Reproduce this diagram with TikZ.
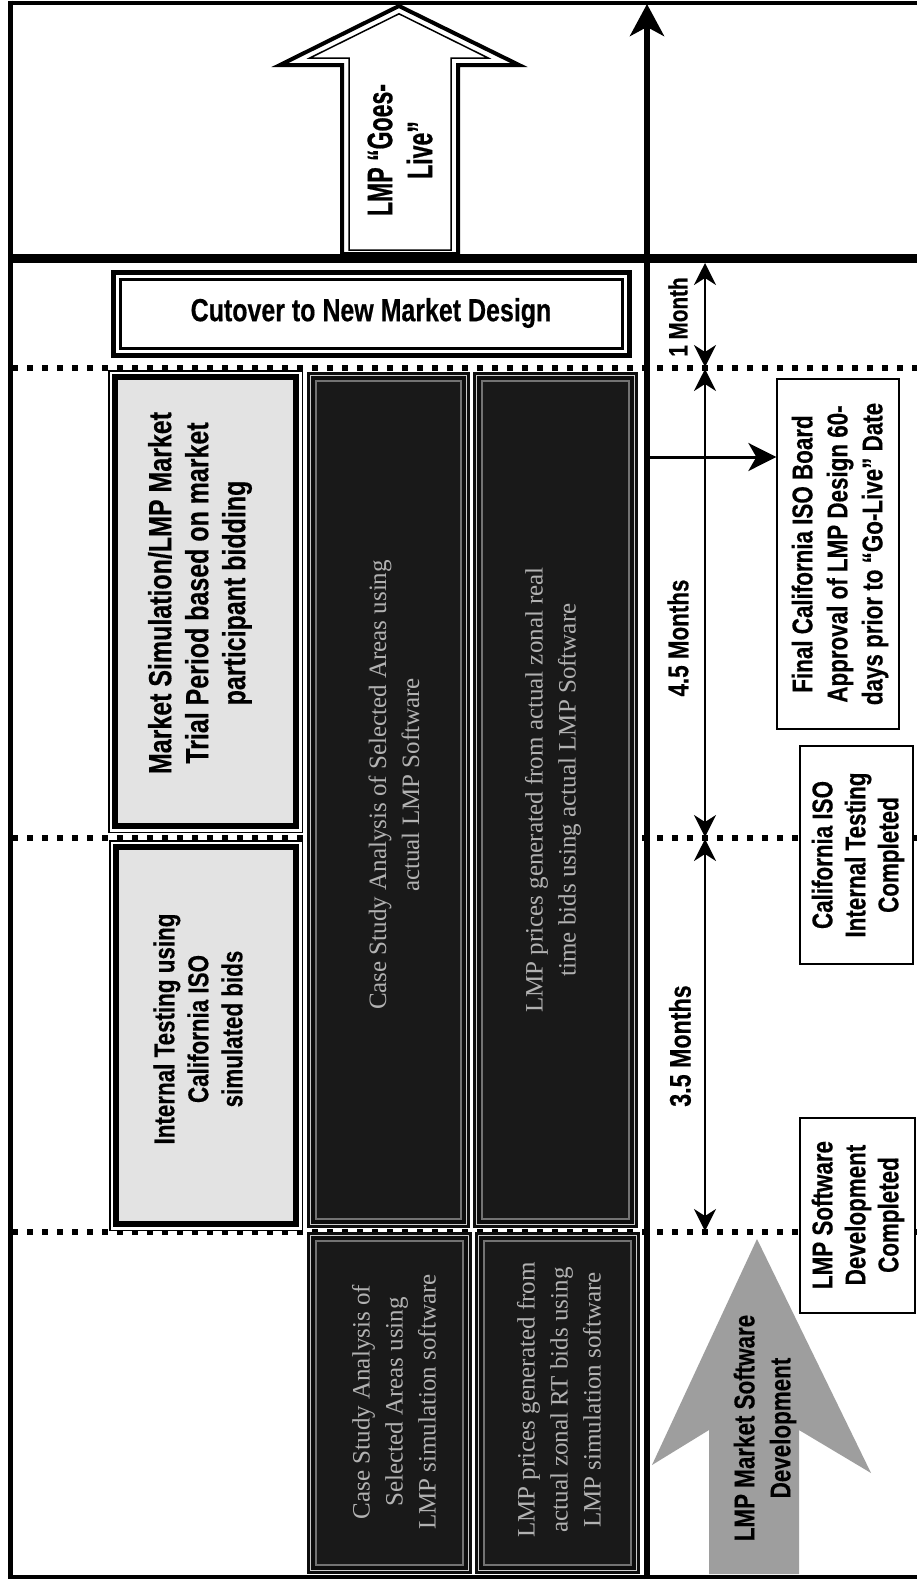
\documentclass[tikz,border=0pt]{standalone}
\usepackage{fontspec}
\newfontfamily\nf[FakeStretch=0.78,FakeBold=0.4]{Liberation Sans}
\newfontfamily\nfc[FakeStretch=0.65,FakeBold=0.6]{Liberation Sans}
\newfontfamily\dserif{Liberation Serif}
\usetikzlibrary{arrows.meta}
\newcommand\darkbox[4]{%
  \fill[black!95] (#1,#2) rectangle (#3,#4);
  \draw[black!20, line width=1pt] ({#1+3.5},{#2+3.5}) rectangle ({#3-3.5},{#4-3.5});
  \fill[black!90] ({#1+10},{#2+10}) rectangle ({#3-10},{#4-10});
  \draw[black!55, line width=2pt] ({#1+9},{#2+9}) rectangle ({#3-9},{#4-9});
}
\newcommand\litebox[4]{%
  \fill[white] (#1,#2) rectangle (#3,#4);
  \fill[black!11] ({#1+10},{#2+10}) rectangle ({#3-10},{#4-10});
  \draw[line width=1.5pt] ({#1+0.75},{#2+0.75}) rectangle ({#3-0.75},{#4-0.75});
  \draw[line width=6.5pt] ({#1+7},{#2+7}) rectangle ({#3-7},{#4-7});
}
\begin{document}
\begin{tikzpicture}[x=1pt,y=-1pt,
  lbl/.style={font=\nf\bfseries\fontsize{28.7}{35}\selectfont, align=center, inner sep=0pt},
  rlbl/.style={lbl, rotate=90},
  dtxt/.style={font=\dserif\fontsize{25}{33}\selectfont, text=black!30, align=center, rotate=90, inner sep=0pt},
  dots/.style={line width=6pt, dash pattern=on 6pt off 9pt},
  marr/.style={line width=2.2pt, {Stealth[length=22pt,width=22pt,inset=7pt]}-{Stealth[length=22pt,width=22pt,inset=7pt]}},
  infobox/.style={draw, line width=1.3pt, fill=white, inner sep=0pt},
]
\fill[white] (0,0) rectangle (917,1585);
\useasboundingbox (0,0) rectangle (917,1585);

% dotted time lines
\draw[dots] (12,368) -- (917,368);
\draw[dots] (12,838) -- (917,838);
\draw[dots] (12,1232) -- (917,1232);

% cutover box
\fill[white] (111,270) rectangle (632,358);
\draw[line width=5pt] (113.5,272.5) rectangle (629.5,355.5);
\draw[line width=3.5pt] (120.5,279.5) rectangle (622.5,348.5);
\node[lbl, font=\nf\bfseries\fontsize{32}{35}\selectfont] (cut) at (371,313) {Cutover to New Market Design};

% light boxes
\litebox{108}{370}{303}{833}
\node[rlbl, font=\nf\bfseries\fontsize{32}{37}\selectfont] (mkt) at (200,593) {Market Simulation/LMP Market\\Trial Period based on market\\participant bidding};
\litebox{109}{840}{303}{1231}
\node[rlbl, font=\nf\bfseries\fontsize{28.7}{34}\selectfont] (int) at (198,1029) {Internal Testing using\\California ISO\\simulated bids};

% dark boxes
\darkbox{307}{372}{470}{1228}
\darkbox{473}{372}{638}{1228}
\darkbox{307}{1232}{472}{1574}
\darkbox{475}{1232}{640}{1574}
\node[dtxt] (cs1) at (394,785) {Case Study Analysis of Selected Areas using\\actual LMP Software};
\node[dtxt] (lp1) at (553,790) {LMP prices generated from actual zonal real\\time bids using actual LMP Software};
\node[dtxt] (cs2) at (394,1402) {Case Study Analysis of\\Selected Areas using\\LMP simulation software};
\node[dtxt] (lp2) at (559,1400) {LMP prices generated from\\actual zonal RT bids using\\LMP simulation software};

% Goes-Live arrow
\draw[line width=4pt, fill=white, line join=miter, miter limit=10] (399,6) -- (280,65) -- (342,65) -- (342,254) -- (458,254) -- (458,65) -- (519,65) -- cycle;
\draw[line width=1.5pt, line join=miter, miter limit=10] (399,13.8) -- (309.8,58) -- (349,58) -- (349,250) -- (451,250) -- (451,58) -- (488.2,58) -- cycle;
\node[rlbl, font=\nfc\bfseries\fontsize{35.5}{40}\selectfont] (golive) at (400,150) {LMP “Goes-\\Live”};

% gray development arrow
\fill[black!38] (757,1239) -- (652,1465) -- (709,1430) -- (709,1574) -- (799,1574) -- (799,1430) -- (871,1473) -- cycle;
\node[rlbl, font=\nf\bfseries\fontsize{28.7}{36}\selectfont] (dev) at (765,1428) {LMP Market Software\\Development};

% frame lines
\draw[line width=9pt] (8,258) -- (917,258);
\draw[line width=4pt] (8,2.5) -- (917,2.5);
\draw[line width=5pt] (10,0.5) -- (10,1579);
\draw[line width=4pt] (8,1577) -- (917,1577);

% time axis
\coordinate (axb) at (647,1579);
\coordinate (axt) at (647,4);
\draw[line width=6pt, -{Stealth[length=32pt,width=34pt,inset=9pt]}] (axb) -- (axt);

% milestone boxes
\node[infobox, minimum width=122pt, minimum height=350pt] (finbox) at (838,554) {};
\node[rlbl] (fin) at (840,554) {Final California ISO Board\\Approval of LMP Design 60-\\days prior to “Go-Live” Date};
\node[infobox, minimum width=113pt, minimum height=218pt] (calbox) at (856.5,855) {};
\node[rlbl, font=\nf\bfseries\fontsize{28.7}{33}\selectfont] (cal) at (858,855) {California ISO\\Internal Testing\\Completed};
\node[infobox, minimum width=115pt, minimum height=195pt] (devbox) at (857.5,1215.5) {};
\node[rlbl, font=\nf\bfseries\fontsize{28.7}{33}\selectfont] (devc) at (858,1215) {LMP Software\\Development\\Completed};

% arrow to approval box
\coordinate (hs) at (650,457);
\draw[line width=3pt, -{Stealth[length=28pt,width=28pt,inset=8pt]}] (hs) -- (hs -| finbox.west);

% duration arrows
\coordinate (m1t) at (705,263);
\coordinate (m1b) at (705,367);
\coordinate (m2t) at (705,369);
\coordinate (m2b) at (705,837);
\coordinate (m3t) at (705,839);
\coordinate (m3b) at (705,1231);
\draw[marr] (m1t) -- (m1b);
\draw[marr] (m2t) -- (m2b);
\draw[marr] (m3t) -- (m3b);
\node[rlbl, font=\nf\bfseries\fontsize{26.5}{30}\selectfont] (l1) at (678,317) {1 Month};
\node[rlbl] (l45) at (678,638) {4.5 Months};
\node[rlbl, font=\nf\bfseries\fontsize{29.8}{30}\selectfont] (l35) at (680,1046) {3.5 Months};
\end{tikzpicture}
\end{document}
